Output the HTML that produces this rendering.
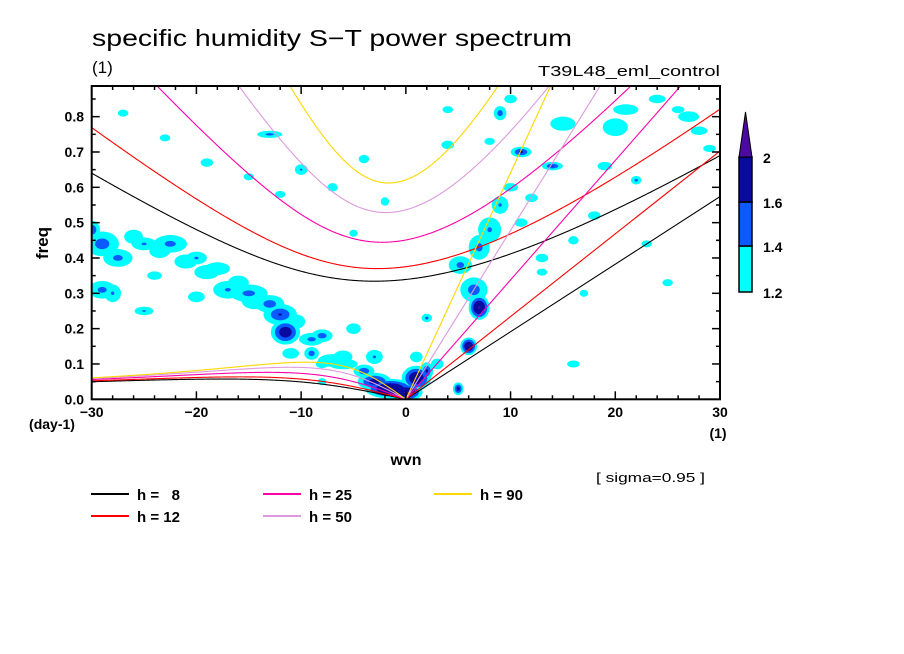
<!DOCTYPE html>
<html><head><meta charset="utf-8">
<style>
html,body{margin:0;padding:0;background:#fff;}
svg{display:block;font-family:"Liberation Sans","DejaVu Sans",sans-serif;}
</style></head>
<body>
<svg id="chart" width="904" height="654" viewBox="0 0 904 654" xmlns="http://www.w3.org/2000/svg">
<rect width="904" height="654" fill="#fff"/>
<text x="92" y="46" font-size="23" fill="#000" textLength="480" lengthAdjust="spacingAndGlyphs">specific humidity S−T power spectrum</text>
<text x="92" y="73" font-size="17" fill="#000">(1)</text>
<text x="538" y="76" font-size="15" fill="#000" textLength="182" lengthAdjust="spacingAndGlyphs">T39L48_eml_control</text>
<defs><clipPath id="pc"><rect x="92" y="86" width="628" height="313.3"/></clipPath></defs>
<g id="blobs" clip-path="url(#pc)"></g>
<g id="curves" clip-path="url(#pc)"></g>
<g id="axes"></g>
<text x="406" y="465" font-size="16" text-anchor="middle" font-weight="bold">wvn</text>
<text x="718" y="438" font-size="14" font-weight="bold" text-anchor="middle">(1)</text>
<text x="52" y="429" font-size="14" font-weight="bold" text-anchor="middle">(day-1)</text>
<text transform="translate(48,243) rotate(-90)" font-size="17" font-weight="bold" text-anchor="middle">freq</text>
<text x="596" y="482" font-size="13" textLength="109" lengthAdjust="spacingAndGlyphs">[ sigma=0.95 ]</text>
<g id="legend"></g>
<g id="colorbar"></g>
</svg>
<script>
// ---- data ----
const depths = [8, 12, 25, 50, 90];
const depthColors = ["#000000", "#ff0000", "#ff00aa", "#dd99dd", "#ffd700"];
const xTicks = [-30, -20, -10, 0, 10, 20, 30];
const yTicks = [0.0, 0.1, 0.2, 0.3, 0.4, 0.5, 0.6, 0.7, 0.8];
const levels = [1.2, 1.4, 1.6, 2.0];
const levelColors = ["#00ffff", "#0a5aff", "#0a0aa0", "#4b0aa0"];
// blobs: wavenumber, frequency, radius-k, radius-f, peak value
const blobK = [-29,-27.5,-25,-22.5,-20,-28,-30,-29,-25,-18,-17,-15,-13,-12,-11.5,-9,-8,-9,-7,-6,-4,-3,-1.5,1,0,2,5,6,7,6.5,5.2,7,8,9,11,14,9,20,21,22,-13,-10,-7,-2,-4,4,2,13,17,25,
  -26,-23.5,-21,-19,-16,-14.5,-10.5,-6,-20,-24,-11,-5,-8,-3,1,3,10,12,16,18,23,24,26,27,28,29,15,19,11,13,8,4,10,16,-27,-23,-19,-15,-12,-8,-5];
const blobF = [0.44,0.40,0.44,0.44,0.40,0.30,0.48,0.31,0.25,0.37,0.31,0.30,0.27,0.24,0.19,0.17,0.18,0.13,0.11,0.12,0.08,0.05,0.03,0.06,0.02,0.08,0.03,0.15,0.26,0.31,0.38,0.43,0.48,0.55,0.70,0.66,0.81,0.77,0.82,0.62,0.75,0.65,0.60,0.56,0.68,0.72,0.23,0.40,0.30,0.33,
  0.46,0.42,0.39,0.36,0.33,0.28,0.22,0.10,0.29,0.35,0.13,0.20,0.10,0.12,0.12,0.10,0.60,0.57,0.45,0.52,0.44,0.85,0.82,0.80,0.76,0.71,0.78,0.66,0.50,0.36,0.73,0.82,0.85,0.10,0.81,0.74,0.67,0.63,0.58,0.05,0.47];
const blobRK = [1.6,1.4,1.2,1.6,1.0,0.8,0.8,1.3,0.9,1.2,1.4,1.8,1.4,1.6,1.4,1.2,1.0,0.7,1.4,0.9,1.0,1.6,2.4,1.4,1.6,0.6,0.5,0.8,1.0,1.3,1.1,1.0,1.1,0.8,1.0,1.0,0.6,1.2,1.2,0.5,1.2,0.6,0.5,0.4,0.5,0.6,0.5,0.6,0.4,0.5,
  0.9,1.0,1.1,1.2,1.0,1.2,0.9,1.4,0.8,0.7,0.8,0.7,0.6,0.8,0.6,0.6,0.7,0.6,0.5,0.6,0.5,0.8,0.6,1.0,0.8,0.6,1.2,0.7,0.6,0.5,0.5,0.5,0.6,0.6,0.5,0.5,0.6,0.5,0.5,0.4,0.4];
const blobRF = [0.035,0.025,0.018,0.025,0.018,0.025,0.025,0.025,0.012,0.018,0.025,0.025,0.025,0.03,0.035,0.018,0.018,0.018,0.018,0.018,0.018,0.025,0.028,0.035,0.025,0.025,0.018,0.025,0.035,0.035,0.025,0.035,0.035,0.025,0.015,0.012,0.02,0.025,0.015,0.012,0.01,0.015,0.012,0.012,0.012,0.012,0.012,0.012,0.01,0.01,
  0.02,0.02,0.02,0.02,0.02,0.025,0.02,0.015,0.015,0.012,0.015,0.015,0.012,0.02,0.015,0.015,0.012,0.012,0.012,0.012,0.01,0.012,0.01,0.015,0.012,0.01,0.02,0.012,0.012,0.01,0.01,0.01,0.012,0.01,0.01,0.01,0.012,0.01,0.01,0.01,0.01];
const blobPeak = [1.55,1.5,1.45,1.5,1.45,1.45,1.65,1.5,1.45,1.4,1.45,1.5,1.55,1.65,1.9,1.5,1.55,1.55,1.4,1.4,1.6,1.8,2.1,2.0,2.1,1.7,1.8,2.05,2.1,1.55,1.5,1.5,1.45,1.45,1.7,1.65,1.55,1.4,1.35,1.5,1.5,1.45,1.4,1.4,1.35,1.35,1.5,1.35,1.35,1.35,
  1.35,1.35,1.35,1.35,1.4,1.4,1.4,1.35,1.3,1.3,1.35,1.3,1.3,1.45,1.35,1.35,1.3,1.3,1.3,1.3,1.3,1.35,1.3,1.4,1.35,1.3,1.4,1.35,1.3,1.3,1.3,1.3,1.3,1.3,1.3,1.3,1.3,1.3,1.3,1.3,1.3];

// ---- scales ----
const X0 = 91.7, X1 = 720, Y0 = 399.3, PX_PER_F = 353.3;
const xs = k => X0 + (k + 30) / 60 * (X1 - X0);
const ys = f => Y0 - f * PX_PER_F;
const NS = "http://www.w3.org/2000/svg";
function mk(tag, attrs, parent) {
  const e = document.createElementNS(NS, tag);
  for (const a in attrs) e.setAttribute(a, attrs[a]);
  parent.appendChild(e);
  return e;
}

// ---- blobs ----
const gB = document.getElementById('blobs');
for (let li = 0; li < levels.length; li++) {
  for (let i = 0; i < blobK.length; i++) {
    const p = blobPeak[i];
    if (p <= levels[li]) continue;
    const s = (p - levels[li]) / (p - levels[0] + 0.0001);
    const e = mk('ellipse', {cx: xs(blobK[i]), cy: ys(blobF[i]),
      rx: blobRK[i] * 10.47 * s, ry: blobRF[i] * PX_PER_F * s, fill: levelColors[li]}, gB);
    
    
  }
}

// ---- dispersion curves ----
const g = 9.81, a = 6.371e6, Om = 7.292e-5, beta = 2 * Om / a;
const toCpd = w => w * 86400 / (2 * Math.PI);
function roots(kw, c) {
  const k = kw / a;
  const A = c * c * k * k + 3 * beta * c, B = beta * c * c * k;
  const m = 2 * Math.sqrt(A / 3);
  let arg = (3 * B / (2 * A)) * Math.sqrt(3 / A);
  arg = Math.max(-1, Math.min(1, arg));
  const th = Math.acos(arg) / 3;
  return [m * Math.cos(th), m * Math.cos(th - 2 * Math.PI / 3), m * Math.cos(th - 4 * Math.PI / 3)];
}
const gC = document.getElementById('curves');
depths.forEach((h, di) => {
  const c = Math.sqrt(g * h);
  let ig = [], er = [];
  for (let k = -30; k <= 30.001; k += 0.1) {
    const r = roots(k, c).sort((p, q) => q - p);
    ig.push(xs(k).toFixed(2) + ',' + ys(toCpd(r[0])).toFixed(2));
    if (k <= 0.0001) er.push(xs(k).toFixed(2) + ',' + ys(toCpd(Math.max(0, r[1]))).toFixed(2));
  }
  const kel = [[0, 0], [30, toCpd(c * 30 / a)]].map(p => xs(p[0]) + ',' + ys(p[1])).join(' ');
  const w = 1.1;
  const l1 = mk('polyline', {points: ig.join(' '), fill: 'none', stroke: depthColors[di], 'stroke-width': w}, gC);
  
  
  const l2 = mk('polyline', {points: er.join(' '), fill: 'none', stroke: depthColors[di], 'stroke-width': w}, gC);
  
  
  const l3 = mk('polyline', {points: kel, fill: 'none', stroke: depthColors[di], 'stroke-width': w}, gC);
  
  
});

// ---- axes ----
const gA = document.getElementById('axes');
const frame = mk('rect', {x: X0, y: 86, width: X1 - X0, height: Y0 - 86, fill: 'none', stroke: '#000', 'stroke-width': 2}, gA);


for (let k = -30; k <= 30; k += 2) {
  const L = k % 10 === 0 ? 8 : 4;
  mk('line', {x1: xs(k), x2: xs(k), y1: Y0, y2: Y0 - L, stroke: '#000', 'stroke-width': 1.5}, gA);
  mk('line', {x1: xs(k), x2: xs(k), y1: 86, y2: 86 + L, stroke: '#000', 'stroke-width': 1.5}, gA);
}
for (let f = 0; f <= 0.88; f += 0.05) {
  const L = Math.abs(f * 10 - Math.round(f * 10)) < 0.01 ? 8 : 4;
  mk('line', {x1: X0, x2: X0 + L, y1: ys(f), y2: ys(f), stroke: '#000', 'stroke-width': 1.5}, gA);
  mk('line', {x1: X1, x2: X1 - L, y1: ys(f), y2: ys(f), stroke: '#000', 'stroke-width': 1.5}, gA);
}
xTicks.forEach(k => {
  const t = mk('text', {x: xs(k), y: 417, 'font-size': 14, 'font-weight': 'bold', 'text-anchor': 'middle'}, gA);
  t.textContent = (k < 0 ? '−' : '') + Math.abs(k);
  
  
});
yTicks.forEach(f => {
  const t = mk('text', {x: 84, y: ys(f) + 5, 'font-size': 14, 'font-weight': 'bold', 'text-anchor': 'end'}, gA);
  t.textContent = f.toFixed(1);
  
  
});

// ---- legend ----
const gL = document.getElementById('legend');
const legX = [91, 91, 263, 263, 434], legY = [494, 516, 494, 516, 494];
depths.forEach((h, i) => {
  const ln = mk('line', {x1: legX[i], x2: legX[i] + 38, y1: legY[i], y2: legY[i], stroke: depthColors[i], 'stroke-width': 2}, gL);
  
  
  const t = mk('text', {x: legX[i] + 46, y: legY[i] + 6, 'font-size': 15, 'font-weight': 'bold'}, gL);
  t.textContent = 'h = ' + (h < 10 ? '\u00a0\u00a0' : '') + h;
  
  
});

// ---- colorbar ----
const gCb = document.getElementById('colorbar');
const cbY = [292, 246, 202, 157];
for (let i = 0; i < 3; i++) {
  const r = mk('rect', {x: 739, y: cbY[i + 1], width: 13, height: cbY[i] - cbY[i + 1], fill: levelColors[i], stroke: '#000', 'stroke-width': 1.5}, gCb);
  
  
}
const tri = mk('polygon', {points: '739,157 752,157 745.5,112', fill: levelColors[3], stroke: '#000', 'stroke-width': 1}, gCb);


levels.forEach((v, i) => {
  const t = mk('text', {x: 763, y: cbY[i] + 6, 'font-size': 14, 'font-weight': 'bold'}, gCb);
  t.textContent = String(v);
  
  
});
</script>
</body></html>
